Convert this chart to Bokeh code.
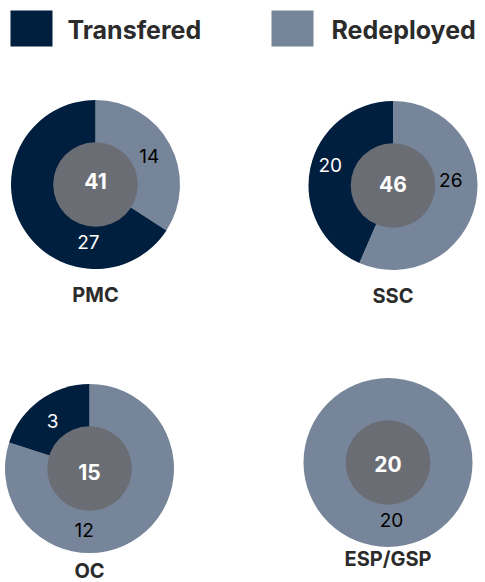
import math
from bokeh.plotting import figure
from bokeh.models import Range1d
from bokeh.core.properties import value
from bokeh.embed import file_html
from bokeh.resources import INLINE

# ---------------- data ----------------
categories = ["PMC", "SSC", "OC", "ESP/GSP"]
series = ["Transfered", "Redeployed"]
transfered = [27, 20, 3, 0]
redeployed = [14, 26, 12, 20]

# ---------------- styles / layout (pixels from top-left) ----------------
COL_T = "#001E3D"
COL_R = "#768599"
COL_IN = "#6B6D74"
COL_TXT = "#2B2B2B"
FONT = "Inter"

W, H = 485, 582


def ry(y):
    return H - y


centers = [(95, 184), (392.5, 185), (89, 468), (387.5, 462)]
R_OUT = 84.5
R_IN = 42.3
title_y = [294, 295, 570, 558]
total_dy = [-4, -2, 3, 1]
# label placement per segment: (angle clockwise from top in deg, radius)
lab_T = [(187, 58), (288, 66), (322, 60), None]
lab_R = [(62, 61), (85, 58), (185, 62), (176.5, 58)]

p = figure(width=W, height=H, output_backend="svg", toolbar_location=None,
           x_range=Range1d(0, W), y_range=Range1d(0, H), min_border=0)
p.axis.visible = False
p.grid.visible = False
p.outline_line_color = None
p.background_fill_color = "white"
p.border_fill_color = "white"

# legend
leg_x = [31, 292]
leg_text_x = [67, 331]
leg_cols = [COL_T, COL_R]
p.rect(x=leg_x, y=[ry(28)] * 2, width=42, height=36, fill_color=leg_cols,
       line_color=None)
p.text(x=leg_text_x, y=[ry(29)] * 2, text=series, text_font=value(FONT),
       text_font_style="bold", text_font_size="25px", text_color=COL_TXT,
       text_baseline="middle", text_align="left")

for i, cat in enumerate(categories):
    cx, cy = centers[i]
    tot = transfered[i] + redeployed[i]
    a_r = redeployed[i] / tot * 360.0
    segs = [(0.0, a_r, COL_R, redeployed[i]), (a_r, 360.0, COL_T, transfered[i])]
    for (t1, t2, col, v) in segs:
        if v <= 0:
            continue
        if v == tot:
            p.circle(x=[cx], y=[ry(cy)], radius=R_OUT, fill_color=col,
                     line_color=None)
        else:
            p.wedge(x=[cx], y=[ry(cy)], radius=R_OUT,
                    start_angle=math.pi / 2 - math.radians(t2),
                    end_angle=math.pi / 2 - math.radians(t1),
                    fill_color=col, line_color=None)
    p.circle(x=[cx], y=[ry(cy)], radius=R_IN, fill_color=COL_IN, line_color=None)
    # total
    p.text(x=[cx], y=[ry(cy + total_dy[i])], text=[str(tot)], text_font=value(FONT),
           text_font_style="bold", text_font_size="21px", text_color="white",
           text_baseline="middle", text_align="center")
    # segment labels
    for pos, v, tc in ((lab_R[i], redeployed[i], "black"), (lab_T[i], transfered[i], "white")):
        if pos is None or v <= 0:
            continue
        a, r = pos
        lx = cx + r * math.sin(math.radians(a))
        ly = cy - r * math.cos(math.radians(a))
        p.text(x=[lx], y=[ry(ly)], text=[str(v)], text_font=value(FONT),
               text_font_size="19px", text_color=tc,
               text_baseline="middle", text_align="center")
    # category title
    p.text(x=[cx], y=[ry(title_y[i])], text=[cat], text_font=value(FONT),
           text_font_style="bold", text_font_size="20px", text_color=COL_TXT,
           text_baseline="middle", text_align="center")

open("out.html", "w").write(file_html(p, INLINE))
